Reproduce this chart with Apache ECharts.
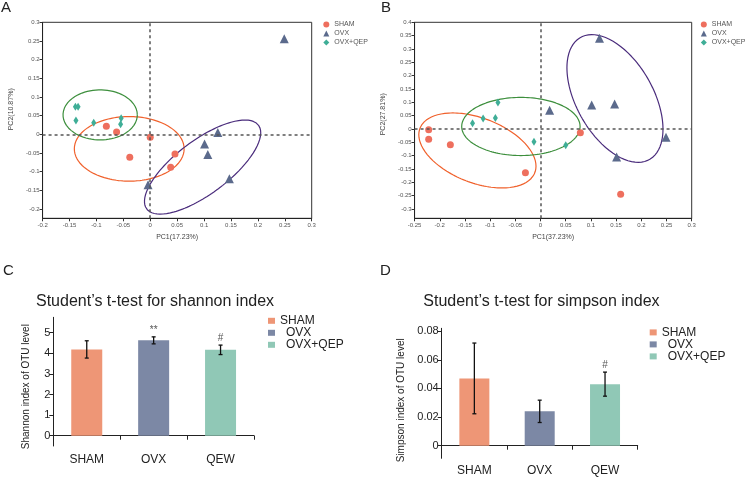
<!DOCTYPE html>
<html><head><meta charset="utf-8">
<script src="https://cdn.jsdelivr.net/npm/echarts@6/dist/echarts.min.js"></script>
<style>html,body{margin:0;padding:0;background:#fff;width:745px;height:477px;overflow:hidden}
.p{position:absolute}</style></head>
<body>
<div id="A" class="p" style="left:0;top:0;width:372px;height:250px"></div>
<div id="B" class="p" style="left:372px;top:0;width:373px;height:250px"></div>
<div id="C" class="p" style="left:0;top:250px;width:372px;height:227px"></div>
<div id="D" class="p" style="left:372px;top:250px;width:373px;height:227px"></div>
<script>
// ---------- data ----------
const groups = ['SHAM', 'OVX', 'OVX+QEP'];
// Panel A (PCA, PC1 17.23%, PC2 10.87%)
const shamA = [[-0.0815, 0.0214], [-0.0625, 0.006], [-0.038, -0.0615], [0, -0.008], [0.046, -0.053], [0.038, -0.088]];
const ovxA = [[0.249, 0.256], [0.1256, 0.005], [0.101, -0.026], [0.107, -0.054], [0.147, -0.119], [-0.004, -0.135]];
const qepA = [[-0.139, 0.074], [-0.134, 0.074], [-0.138, 0.037], [-0.105, 0.031], [-0.054, 0.043], [-0.055, 0.027]];
// confidence ellipses: [centerX, centerY, halfWidthX, halfHeightY, correlation]
const ellipsesA = [[-0.039, -0.039, 0.102, 0.0865, 0], [0.0973, -0.0878, 0.108, 0.126, 0.73], [-0.093, 0.052, 0.069, 0.067, 0]];
const xTicksA = [-0.2, -0.15, -0.1, -0.05, 0, 0.05, 0.1, 0.15, 0.2, 0.25, 0.3];
const yTicksA = [-0.2, -0.15, -0.1, -0.05, 0, 0.05, 0.1, 0.15, 0.2, 0.25, 0.3];
// Panel B (PCA, PC1 37.23%, PC2 27.81%)
const shamB = [[-0.222, -0.0025], [-0.222, -0.039], [-0.179, -0.059], [-0.030, -0.164], [0.079, -0.014], [0.159, -0.245]];
const ovxB = [[0.117, 0.34], [0.1015, 0.09], [0.147, 0.094], [0.018, 0.07], [0.249, -0.031], [0.151, -0.105]];
const qepB = [[-0.0845, 0.099], [-0.114, 0.039], [-0.0897, 0.041], [-0.135, 0.021], [-0.013, -0.0475], [0.050, -0.061]];
const ellipsesB = [[-0.1253, -0.0806, 0.1163, 0.1406, -0.42], [0.1477, 0.1143, 0.0953, 0.2395, -0.48], [-0.039, 0.0094, 0.1175, 0.109, 0]];
const xTicksB = [-0.25, -0.2, -0.15, -0.1, -0.05, 0, 0.05, 0.1, 0.15, 0.2, 0.25, 0.3];
const yTicksB = [-0.3, -0.25, -0.2, -0.15, -0.1, -0.05, 0, 0.05, 0.1, 0.15, 0.2, 0.25, 0.3, 0.35, 0.4];
// Panel C (shannon) and D (simpson)
const barCategories = ['SHAM', 'OVX', 'QEW'];
const shannonMean = [4.19, 4.63, 4.17];
const shannonErr = [0.42, 0.17, 0.23];
const shannonMarks = ['', '**', '#'];
const shannonTicks = [0, 1, 2, 3, 4, 5];
const simpsonMean = [0.047, 0.024, 0.043];
const simpsonErr = [0.0247, 0.0078, 0.0084];
const simpsonMarks = ['', '', '#'];
const simpsonTicks = [0, 0.02, 0.04, 0.06, 0.08];

// ---------- styles ----------
const FONT = 'Liberation Sans, Arial, Helvetica, sans-serif';
const ptColors = ['#EE6F5E', '#5B6A8C', '#3FAE97'];
const ellColors = ['#F0612C', '#4A2C7C', '#3D8F3D'];
const symbols = ['circle', 'triangle', 'diamond'];
const symSizes = [7, 9, [5, 8]];
const barColors = ['#EE9676', '#7C88A5', '#90C8B6'];

function ellipsePts(e) {
  const [cx, cy, rx, ry, r] = e;
  const s = Math.sqrt(1 - r * r);
  const pts = [];
  for (let k = 0; k <= 160; k++) {
    const t = 2 * Math.PI * k / 160;
    pts.push([cx + rx * Math.cos(t), cy + ry * (r * Math.cos(t) + s * Math.sin(t))]);
  }
  return pts;
}

function pcaOption(p) {
  const series = [];
  groups.forEach((g, i) => {
    series.push({
      type: 'line', data: ellipsePts(p.ell[i]), showSymbol: false, symbol: 'none',
      lineStyle: { color: ellColors[i], width: 1.2 }, silent: true, z: 3
    });
  });
  groups.forEach((g, i) => {
    series.push({
      type: 'scatter', name: g, data: p.pts[i], symbol: symbols[i], symbolSize: symSizes[i],
      itemStyle: { color: ptColors[i], opacity: 1 }, z: 4
    });
  });
  series[3].markLine = {
    silent: true, symbol: ['none', 'none'], label: { show: false }, animation: false,
    lineStyle: { color: '#555', type: [3, 3], width: 1.5 },
    data: [{ xAxis: 0 }, { yAxis: 0 }]
  };
  return {
    animation: false,
    textStyle: { fontFamily: FONT },
    title: { text: p.letter, left: p.letterLeft, top: 0, padding: 0, textStyle: { fontSize: 15, fontWeight: 'normal', color: '#222', fontFamily: FONT } },
    legend: {
      data: groups.map((g, i) => ({ name: g, icon: symbols[i] })),
      orient: 'vertical', left: p.legendLeft, top: 20, padding: 0, itemGap: 0,
      itemWidth: 6, itemHeight: 6,
      textStyle: { fontSize: 7, color: '#555', lineHeight: 9, fontFamily: FONT }
    },
    grid: { left: p.gridLeft, top: 22.3, width: 280, height: 196, show: true, borderColor: '#333', borderWidth: 1 },
    xAxis: {
      type: 'value', min: p.xMin, max: p.xMax, name: p.xName, nameLocation: 'middle', nameGap: 12,
      nameTextStyle: { fontSize: 7, color: '#444', fontFamily: FONT },
      axisLine: { onZero: false, lineStyle: { color: '#222', width: 1 } },
      axisTick: { length: 3, customValues: p.xTicks, lineStyle: { color: '#333' } },
      axisLabel: { fontSize: 6, color: '#555', margin: 4, customValues: p.xTicks, fontFamily: FONT },
      splitLine: { show: false }
    },
    yAxis: {
      type: 'value', min: p.yMin, max: p.yMax, name: p.yName, nameLocation: 'middle', nameGap: p.yNameGap,
      nameTextStyle: { fontSize: 7, color: '#444', fontFamily: FONT, padding: p.yNamePad },
      axisLine: { onZero: false, lineStyle: { color: '#222', width: 1 } },
      axisTick: { length: 3, customValues: p.yTicks, lineStyle: { color: '#333' } },
      axisLabel: { fontSize: 6, color: '#555', margin: 3, customValues: p.yTicks, fontFamily: FONT },
      splitLine: { show: false }
    },
    series
  };
}

function barOption(p) {
  const series = [];
  groups.forEach((g, i) => {
    series.push({
      type: 'bar', name: g, barWidth: p.barWidth, barGap: '-100%', startValue: p.yMin,
      data: barCategories.map((c, j) => (j === i ? p.mean[j] : '-')),
      itemStyle: { color: barColors[i] }, z: 2
    });
  });
  series.push({
    type: 'custom', silent: true, z: 5,
    data: p.mean.map((m, j) => [j, m, p.err[j]]),
    encode: { x: 0, y: 1 },
    renderItem: function (params, api) {
      const x = api.value(0), m = api.value(1), e = api.value(2);
      const top = api.coord([x, m + e]);
      const bot = api.coord([x, m - e]);
      const st = { stroke: '#111', lineWidth: 1.3 };
      const children = [
        { type: 'line', shape: { x1: top[0], y1: top[1], x2: bot[0], y2: bot[1] }, style: st },
        { type: 'line', shape: { x1: top[0] - 2, y1: top[1], x2: top[0] + 2, y2: top[1] }, style: st },
        { type: 'line', shape: { x1: bot[0] - 2, y1: bot[1], x2: bot[0] + 2, y2: bot[1] }, style: st }
      ];
      const mark = p.marks[params.dataIndex];
      if (mark) {
        children.push({
          type: 'text', x: top[0], y: top[1] - 2,
          style: { text: mark, fill: '#555', font: '10px ' + FONT, textAlign: 'center', textVerticalAlign: 'bottom' }
        });
      }
      return { type: 'group', children };
    }
  });
  return {
    animation: false,
    textStyle: { fontFamily: FONT },
    title: [
      { text: p.letter, left: p.letterLeft, top: 13, padding: 0, textStyle: { fontSize: 15, fontWeight: 'normal', color: '#222', fontFamily: FONT } },
      { text: p.title, left: p.titleLeft, top: 44, padding: 0, textStyle: { fontSize: 16, fontWeight: 'normal', color: '#222', fontFamily: FONT } }
    ],
    legend: {
      data: groups, orient: 'vertical', left: p.legendLeft, top: p.legendTop, padding: 0, itemGap: 0,
      icon: 'rect', itemWidth: 7, itemHeight: 6,
      formatter: function (name) { return name === 'SHAM' ? name : '\u2002' + name; },
      textStyle: { fontSize: 12, color: '#222', lineHeight: 9.2, fontFamily: FONT }
    },
    grid: { left: p.gridLeft, top: p.gridTop, width: p.gridWidth, height: p.gridHeight },
    xAxis: {
      type: 'category', data: barCategories,
      axisLine: { lineStyle: { color: '#222', width: 1 } },
      axisTick: { show: true, length: 4, lineStyle: { color: '#222' } },
      axisLabel: { fontSize: 12, color: '#222', margin: p.xLabelMargin, fontFamily: FONT }
    },
    yAxis: {
      type: 'value', min: p.yMin, max: p.yMax, name: p.yName, nameLocation: 'middle', nameGap: p.yNameGap,
      nameTextStyle: { fontSize: 10, color: '#222', fontFamily: FONT, padding: p.yNamePad },
      axisLine: { show: true, onZero: false, lineStyle: { color: '#222', width: 1 } },
      axisTick: { show: true, length: 4, customValues: p.yTicks, lineStyle: { color: '#222' } },
      axisLabel: { fontSize: 11, color: '#222', margin: 3, customValues: p.yTicks, fontFamily: FONT },
      splitLine: { show: false }
    },
    series
  };
}

echarts.init(document.getElementById('A')).setOption(pcaOption({
  letter: 'A', letterLeft: 1, legendLeft: 323.3, gridLeft: 31.7,
  pts: [shamA, ovxA, qepA], ell: ellipsesA,
  xMin: -0.2, xMax: 0.3, yMin: -0.225, yMax: 0.3, xTicks: xTicksA, yTicks: yTicksA,
  xName: 'PC1(17.23%)', yName: 'PC2(10.87%)', yNameGap: 21, yNamePad: [0, 0, 0, 22]
}));
echarts.init(document.getElementById('B')).setOption(pcaOption({
  letter: 'B', letterLeft: 9, legendLeft: 328.8, gridLeft: 39.7,
  pts: [shamB, ovxB, qepB], ell: ellipsesB,
  xMin: -0.25, xMax: 0.3, yMin: -0.335, yMax: 0.4, xTicks: xTicksB, yTicks: yTicksB,
  xName: 'PC1(37.23%)', yName: 'PC2(27.81%)', yNameGap: 22, yNamePad: [0, 0, 0, 12]
}));
echarts.init(document.getElementById('C')).setOption(barOption({
  letter: 'C', letterLeft: 3, title: 'Student\u2019s t-test for shannon index', titleLeft: 36,
  legendLeft: 268, legendTop: 64.8,
  gridLeft: 53.3, gridTop: 67.3, gridWidth: 200.7, gridHeight: 128.7,
  yMin: -0.5, yMax: 5.75, yTicks: shannonTicks, barWidth: 31, xLabelMargin: 8,
  mean: shannonMean, err: shannonErr, marks: shannonMarks,
  yName: 'Shannon index of OTU level', yNameGap: 21.6, yNamePad: [0, 10, 0, 0]
}));
echarts.init(document.getElementById('D')).setOption(barOption({
  letter: 'D', letterLeft: 8, title: 'Student\u2019s t-test for simpson index', titleLeft: 51.3,
  legendLeft: 277.7, legendTop: 76.4,
  gridLeft: 69.7, gridTop: 78.3, gridWidth: 196, gridHeight: 130,
  yMin: -0.0088, yMax: 0.082, yTicks: simpsonTicks, barWidth: 30, xLabelMargin: 6,
  mean: simpsonMean, err: simpsonErr, marks: simpsonMarks,
  yName: 'Simpson index of OTU level', yNameGap: 35, yNamePad: [0, 14, 0, 0]
}));
</script>
</body></html>
